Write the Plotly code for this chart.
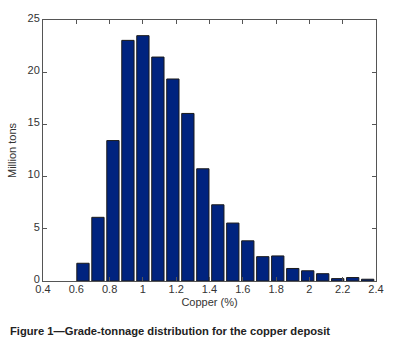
import plotly.graph_objects as go

grade_centers = [0.64, 0.73, 0.82, 0.91, 1.00, 1.09, 1.18, 1.27, 1.36, 1.45,
                 1.54, 1.63, 1.72, 1.81, 1.90, 1.99, 2.08, 2.17, 2.26, 2.35]
tonnage = [1.7, 6.1, 13.45, 23.05, 23.5, 21.45, 19.35, 16.05, 10.75, 7.3,
           5.55, 3.85, 2.33, 2.4, 1.2, 0.98, 0.7, 0.23, 0.33, 0.17]
x_ticks = [0.4, 0.6, 0.8, 1.0, 1.2, 1.4, 1.6, 1.8, 2.0, 2.2, 2.4]
x_tick_labels = ["0.4", "0.6", "0.8", "1", "1.2", "1.4", "1.6", "1.8", "2", "2.2", "2.4"]
y_ticks = [0, 5, 10, 15, 20, 25]

FONT = "Liberation Sans, Arial, sans-serif"

fig = go.Figure(go.Bar(
    x=grade_centers, y=tonnage,
    marker=dict(color="#00237f", line=dict(color="#1a1a1a", width=1)),
))

axis_common = dict(
    showline=True, linecolor="#555555", linewidth=1, mirror="ticks",
    ticks="inside", ticklen=4, tickcolor="#555555", showgrid=False, zeroline=False,
    tickfont=dict(family=FONT, size=11, color="#333333"),
)

fig.update_layout(
    width=396, height=348,
    margin=dict(l=43, r=14, t=14, b=67),
    paper_bgcolor="white", plot_bgcolor="white",
    bargap=0.18, showlegend=False,
    xaxis=dict(range=[0.4, 2.4], tickvals=x_ticks, ticktext=x_tick_labels,
               ticklabeloverflow="allow", ticklabelstandoff=-2,
               title=dict(text="Copper (%)", font=dict(family=FONT, size=11, color="#333333"), standoff=4),
               **axis_common),
    yaxis=dict(range=[0, 25], tickvals=y_ticks, ticklabelstandoff=0, ticklabelshift=-2,
               title=dict(text="Million tons", font=dict(family=FONT, size=11, color="#333333"), standoff=8),
               **axis_common),
    annotations=[dict(
        text="<b>Figure 1\u2014Grade-tonnage distribution for the copper deposit</b>",
        xref="paper", yref="paper", x=-36/339, y=-51/267, xanchor="left", yanchor="middle",
        showarrow=False, font=dict(family=FONT, size=11.2, color="#222222"),
    )],
)

fig.write_html("out.html", config={"displayModeBar": False},
               post_script="document.body.style.margin='0';document.body.style.padding='0';")
